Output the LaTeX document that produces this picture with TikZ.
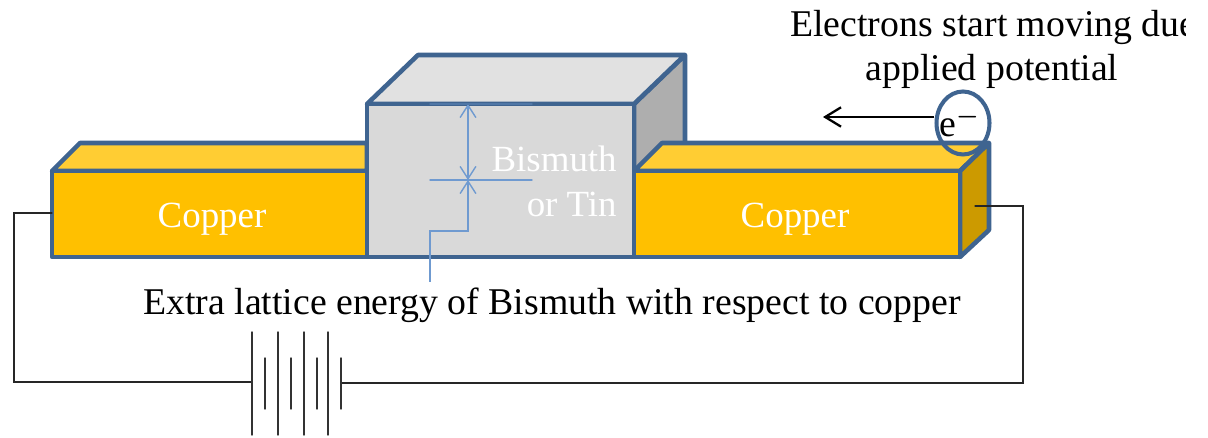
\documentclass[tikz,border=0pt]{standalone}
\usepackage{fontspec}
\usepackage{amsmath}
\usepackage{tikz}
\usepackage{tkz-euclide}
\usepackage{xcolor}
\usetikzlibrary{arrows.meta,shapes.geometric}
\setmainfont{Liberation Serif}
\definecolor{edgeblue}{HTML}{3F6490}
\definecolor{dimblue}{HTML}{6F9AD0}
\definecolor{cufront}{HTML}{FFC000}
\definecolor{cutop}{HTML}{FFCD33}
\definecolor{cuside}{HTML}{CC9A00}
\definecolor{bifront}{HTML}{D9D9D9}
\definecolor{bitop}{HTML}{E1E1E1}
\definecolor{biside}{HTML}{AEAEAE}
\tikzset{
  face/.style={draw=edgeblue,line width=2.6pt,line join=round,fill=#1},
  wire/.style={draw=black!85,line width=0.7pt},
  plate/.style={draw=black!80,line width=0.8pt},
  dimline/.style={draw=dimblue,line width=0.8pt},
  dimtip/.style={{Straight Barb[length=7pt,width=9pt]}-{Straight Barb[length=7pt,width=9pt]}},
  label/.style={font=\fontsize{21.5}{25}\selectfont,inner sep=0pt},
  whitelabel/.style={font=\fontsize{21}{25}\selectfont,inner sep=0pt,text=white}
}
\begin{document}
\begin{tikzpicture}[x=0.02cm,y=-0.02cm]
    \useasboundingbox (0,0) rectangle (1208,438);
    % corners of the blocks
    \tkzDefPoints{52/171/A,367/171/B,367/257/C,52/257/D,80/143/E,367/143/F}
    \tkzDefPoints{367/104/G,634/104/H,634/257/I,367/257/J,418/55/K,685/55/L,685/143/M,634/171/N}
    \tkzDefPoints{634/171/P,960/171/Q,960/257/R,634/257/S,662/143/T,989/143/U,989/230/V}
    % wires and battery plates
    \tkzDefPoints{14/213/WA,14/382/WB,1023/383/WC,1023/206/WD,975/206/WE,52/213/WF}
    \tkzDefPoints{252/332/BA,252/435/BB,278/332/BC,278/435/BD,304/332/BE,304/435/BF,328/332/BG,328/435/BH}
    \tkzDefPoints{265/358/SA,265/409/SB,291/358/SC,291/409/SD,317/358/SE,317/409/SF,341/358/SG,341/409/SH}
    \tkzDefPoints{252/382/BL,341/383/BR}
    % dimension lines
    \tkzDefPoints{468/104/DA,468/180/DB,430/180/DC,532/180/DD,430/282/DE,430/231/DF,468/231/DG,430/104/DH,532/104/DI}
    % faces
    \tkzDrawPolygon[face=biside](H,L,M,N)
    \tkzDrawPolygon[face=bitop](G,K,L,H)
    \tkzDrawPolygon[face=cutop](A,E,F,B)
    \tkzDrawPolygon[face=cufront](A,B,C,D)
    \tkzDrawPolygon[face=cutop](P,T,U,Q)
    \tkzDrawPolygon[face=cuside](Q,U,V,R)
    \tkzDrawPolygon[face=cufront](P,Q,R,S)
    \tkzDrawPolygon[face=bifront](G,H,I,J)
    % wires
    \tkzDrawPolySeg[wire](WF,WA,WB,BL)
    \tkzDrawPolySeg[wire](BR,WC,WD,WE)
    % battery
    \tkzDrawSegments[plate](BA,BB BC,BD BE,BF BG,BH SA,SB SC,SD SE,SF SG,SH)
    % lattice energy marks
    \tkzDrawSegments[dimline,dimtip](DA,DB)
    \tkzDrawSegments[dimline](DC,DD)
    \tkzDrawSegments[dimline,draw=dimblue!35!edgeblue](DH,DI)
    \draw[dimline,-{Straight Barb[length=7pt,width=9pt]}] (DE) -- (DF) -- (DG) -- (DB);
    % labels
    \node[whitelabel] (culeft) at (212,219) {Copper};
    \node[whitelabel] (curight) at (795,219) {Copper};
    \node[whitelabel,anchor=east] (bitext) at (617,159) {Bismuth};
    \node[whitelabel,anchor=east] (tintext) at (617,204) {or Tin};
    \node[label] (extra) at (552,305) {Extra lattice energy of Bismuth with respect to copper};
    \begin{scope}
        \clip (780,0) rectangle (1185,50);
        \node[label,anchor=west] (moving) at (790,27) {Electrons start moving due};
    \end{scope}
    \node[label] (applied) at (992,71) {applied potential};
    % electron
    \node[ellipse,draw=edgeblue,line width=2.3pt,minimum width=1.06cm,minimum height=1.26cm,inner sep=0pt] (ering) at (963,123) {};
    \node[label,anchor=base west] (etext) at (939,137) {e$^{\boldsymbol{-}}$};
    \tkzDefPoints{823/117/AR}
    \draw[black,line width=1.3pt,-{Straight Barb[length=9pt,width=11pt]}] (ering.west |- AR) -- (AR);
\end{tikzpicture}
\end{document}
